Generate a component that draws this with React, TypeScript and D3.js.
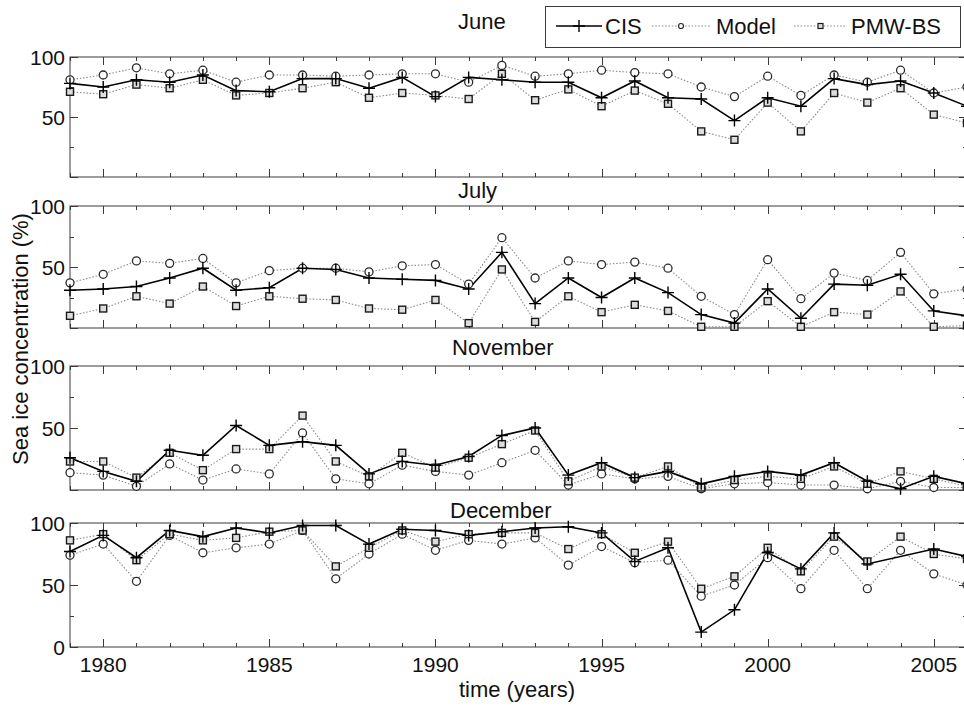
import React, { useEffect, useRef } from "react";
import * as d3 from "d3";

const years = [
  1979, 1980, 1981, 1982, 1983, 1984, 1985, 1986, 1987, 1988, 1989, 1990, 1991, 1992,
  1993, 1994, 1995, 1996, 1997, 1998, 1999, 2000, 2001, 2002, 2003, 2004, 2005, 2006,
];

const juneCIS = [78, 75, 81, 79, 85, 72, 71, 82, 82, 74, 83, 67, 83, 81, 79, 79, 66, 80, 66, 65, 47, 66, 59, 82, 77, 80, 70, 59];
const juneModel = [81, 85, 91, 86, 89, 79, 85, 85, 84, 85, 86, 86, 79, 93, 84, 86, 89, 87, 86, 75, 67, 84, 68, 85, 79, 89, 70, 75];
const junePMW = [71, 69, 77, 74, 81, 68, 70, 74, 79, 66, 70, 68, 65, 86, 64, 73, 59, 72, 61, 38, 31, 62, 38, 70, 62, 74, 52, 45];

const julyCIS = [31, 32, 34, 41, 49, 31, 33, 49, 48, 41, 40, 39, 32, 62, 20, 41, 25, 41, 29, 11, 4, 32, 8, 36, 35, 44, 14, 10];
const julyModel = [37, 44, 55, 53, 57, 37, 47, 49, 49, 46, 51, 52, 36, 74, 41, 55, 52, 54, 49, 26, 11, 56, 24, 45, 39, 62, 28, 32];
const julyPMW = [10, 16, 26, 20, 34, 18, 26, 24, 23, 16, 15, 23, 4, 48, 5, 26, 13, 19, 14, 1, 1, 22, 1, 13, 11, 30, 1, 2];

const novCIS = [26, 15, 7, 32, 28, 52, 36, 39, 36, 13, 23, 20, 27, 44, 50, 12, 22, 10, 15, 5, 11, 15, 12, 22, 7, 1, 11, 5];
const novModel = [14, 12, 3, 21, 8, 17, 13, 46, 9, 5, 20, 15, 12, 22, 32, 4, 13, 9, 11, 1, 5, 6, 4, 4, 1, 7, 2, 2];
const novPMW = [23, 23, 10, 30, 16, 33, 33, 60, 23, 11, 30, 18, 26, 37, 48, 7, 19, 10, 19, 2, 8, 11, 9, 19, 5, 15, 9, 3];

const decCIS = [77, 90, 72, 94, 89, 96, 92, 98, 98, 83, 95, 94, 90, 93, 96, 97, 92, 69, 80, 12, 30, 76, 63, 92, 67, null, 79, 73];
const decModel = [74, 83, 53, 90, 76, 80, 83, 94, 55, 75, 91, 78, 86, 83, 88, 66, 81, 68, 70, 41, 50, 72, 47, 78, 47, 78, 59, 50];
const decPMW = [86, 91, 70, 91, 86, 88, 93, 94, 65, 80, 94, 85, 91, 92, 92, 79, 91, 76, 85, 47, 57, 80, 61, 89, 69, 89, 75, 71];

const panelNames = ["June", "July", "November", "December"];
const yTickLabels = [0, 50, 100];
const xTickLabels = [1980, 1985, 1990, 1995, 2000, 2005];

const FONT = "'Liberation Sans', Arial, Helvetica, sans-serif";
const AXIS = "#3a3a3a";

function App() {
  const ref = useRef<SVGSVGElement>(null);

  useEffect(() => {
    const svg = d3.select(ref.current).attr("width", 964).attr("height", 707);
    svg.selectAll("*").remove();

    const panels = [
      { name: panelNames[0], top: 57, bottom: 177, cis: juneCIS, model: juneModel, pmw: junePMW, tx: 458, ty: 29 },
      { name: panelNames[1], top: 206, bottom: 328, cis: julyCIS, model: julyModel, pmw: julyPMW, tx: 458, ty: 198 },
      { name: panelNames[2], top: 366, bottom: 490, cis: novCIS, model: novModel, pmw: novPMW, tx: 452, ty: 355 },
      { name: panelNames[3], top: 523, bottom: 647, cis: decCIS, model: decModel, pmw: decPMW, tx: 450, ty: 518 },
    ];

    const left = 70;
    const right = 967;
    const x = d3.scaleLinear().domain([1979, 2006]).range([left, right]);

    panels.forEach((p, pi) => {
      const y = d3.scaleLinear().domain([0, 100]).range([p.bottom, p.top]);
      const g = svg.append("g");

      // frame
      g.append("rect")
        .attr("x", left)
        .attr("y", p.top)
        .attr("width", right - left)
        .attr("height", p.bottom - p.top)
        .attr("fill", "none")
        .attr("stroke", AXIS)
        .attr("stroke-width", 1);

      // x ticks, top and bottom, pointing in
      years.forEach((yr) => {
        const len = yr % 5 === 0 ? 8 : 4;
        const xx = Math.round(x(yr)) + 0.5;
        g.append("line").attr("x1", xx).attr("x2", xx).attr("y1", p.bottom).attr("y2", p.bottom - len).attr("stroke", AXIS);
        g.append("line").attr("x1", xx).attr("x2", xx).attr("y1", p.top).attr("y2", p.top + len).attr("stroke", AXIS);
      });

      // y ticks, left and right
      [0, 25, 50, 75, 100].forEach((v) => {
        const len = v % 50 === 0 ? 8 : 4;
        const yy = Math.round(y(v)) + 0.5;
        g.append("line").attr("x1", left).attr("x2", left + len).attr("y1", yy).attr("y2", yy).attr("stroke", AXIS);
        g.append("line").attr("x1", right).attr("x2", right - len).attr("y1", yy).attr("y2", yy).attr("stroke", AXIS);
      });

      // y tick labels
      yTickLabels
        .filter((v) => v > 0 || pi === panels.length - 1)
        .forEach((v) => {
          g.append("text")
            .attr("x", left - 5)
            .attr("y", y(v))
            .attr("dy", "0.36em")
            .attr("text-anchor", "end")
            .style("font-family", FONT)
            .style("font-size", "21px")
            .attr("fill", "#111")
            .text(v);
        });

      // title
      svg.append("text")
        .attr("x", p.tx)
        .attr("y", p.ty)
        .style("font-family", FONT)
        .style("font-size", "22px")
        .attr("fill", "#111")
        .text(p.name);

      const line = d3
        .line<[number, number]>()
        .x((d) => x(d[0]))
        .y((d) => y(d[1]));

      const pts = (arr: (number | null)[]) =>
        years.map((yr, i) => [yr, arr[i]] as [number, number | null]).filter((d) => d[1] !== null) as [number, number][];

      const model = pts(p.model);
      const pmw = pts(p.pmw);
      const cis = pts(p.cis);

      const marks = g.append("g");

      [model, pmw].forEach((s) => {
        marks.append("path")
          .attr("d", line(s))
          .attr("fill", "none")
          .attr("stroke", "#8a8a8a")
          .attr("stroke-width", 1.1)
          .attr("stroke-dasharray", "1.5,1.8");
      });

      marks.append("path")
        .attr("d", line(cis))
        .attr("fill", "none")
        .attr("stroke", "#000")
        .attr("stroke-width", 1.6);

      // markers
      marks.selectAll("circle.m")
        .data(model)
        .join("circle")
        .attr("class", "m")
        .attr("cx", (d) => x(d[0]))
        .attr("cy", (d) => y(d[1]))
        .attr("r", 4)
        .attr("fill", "#fff")
        .attr("stroke", "#2a2a2a")
        .attr("stroke-width", 1.3);

      marks.selectAll("rect.s")
        .data(pmw)
        .join("rect")
        .attr("class", "s")
        .attr("x", (d) => x(d[0]) - 3.5)
        .attr("y", (d) => y(d[1]) - 3.5)
        .attr("width", 7)
        .attr("height", 7)
        .attr("fill", "#ddd")
        .attr("stroke", "#1a1a1a")
        .attr("stroke-width", 1.4);

      marks.selectAll("path.c")
        .data(cis)
        .join("path")
        .attr("class", "c")
        .attr("d", (d) => {
          const cx = x(d[0]);
          const cy = y(d[1]);
          return `M${cx - 6},${cy}H${cx + 6}M${cx},${cy - 6}V${cy + 6}`;
        })
        .attr("stroke", "#000")
        .attr("stroke-width", 1.4);
    });

    // x tick labels under the last panel
    const last = panels[panels.length - 1];
    xTickLabels.forEach((yr) => {
      svg.append("text")
        .attr("x", x(yr))
        .attr("y", last.bottom + 25)
        .attr("text-anchor", "middle")
        .style("font-family", FONT)
        .style("font-size", "21px")
        .attr("fill", "#111")
        .text(yr);
    });

    svg.append("text")
      .attr("x", 517)
      .attr("y", 697)
      .attr("text-anchor", "middle")
      .style("font-family", FONT)
      .style("font-size", "22px")
      .attr("fill", "#111")
      .text("time (years)");

    svg.append("text")
      .attr("transform", "translate(28,339) rotate(-90)")
      .attr("text-anchor", "middle")
      .style("font-family", FONT)
      .style("font-size", "22px")
      .attr("fill", "#111")
      .text("Sea ice concentration (%)");

    // legend
    const lg = svg.append("g");
    lg.append("rect")
      .attr("x", 545.5)
      .attr("y", 6.5)
      .attr("width", 415)
      .attr("height", 41)
      .attr("fill", "#fff")
      .attr("stroke", AXIS);

    const ly = 26;
    // CIS
    lg.append("line").attr("x1", 556).attr("x2", 602).attr("y1", ly).attr("y2", ly).attr("stroke", "#000").attr("stroke-width", 1.6);
    lg.append("path").attr("d", `M573,${ly}H585M579,${ly - 6}V${ly + 6}`).attr("stroke", "#000").attr("stroke-width", 1.4);
    // Model
    lg.append("line").attr("x1", 652).attr("x2", 711).attr("y1", ly).attr("y2", ly).attr("stroke", "#8a8a8a").attr("stroke-dasharray", "1.5,1.8");
    lg.append("circle").attr("cx", 681).attr("cy", ly).attr("r", 2.5).attr("fill", "#fff").attr("stroke", "#2a2a2a").attr("stroke-width", 1.2);
    // PMW-BS
    lg.append("line").attr("x1", 794).attr("x2", 847).attr("y1", ly).attr("y2", ly).attr("stroke", "#8a8a8a").attr("stroke-dasharray", "1.5,1.8");
    lg.append("rect").attr("x", 818).attr("y", ly - 2.5).attr("width", 5).attr("height", 5).attr("fill", "#ddd").attr("stroke", "#1a1a1a").attr("stroke-width", 1.2);

    [
      { t: "CIS", x: 605 },
      { t: "Model", x: 716 },
      { t: "PMW-BS", x: 851 },
    ].forEach((d) => {
      lg.append("text")
        .attr("x", d.x)
        .attr("y", ly)
        .attr("dy", "0.36em")
        .style("font-family", FONT)
        .style("font-size", "22px")
        .attr("fill", "#111")
        .text(d.t);
    });
  }, []);

  return (
    <div style={{ position: "absolute", left: 0, top: 0, background: "#fff" }}>
      <svg ref={ref} style={{ display: "block" }} />
    </div>
  );
}

export default App;
